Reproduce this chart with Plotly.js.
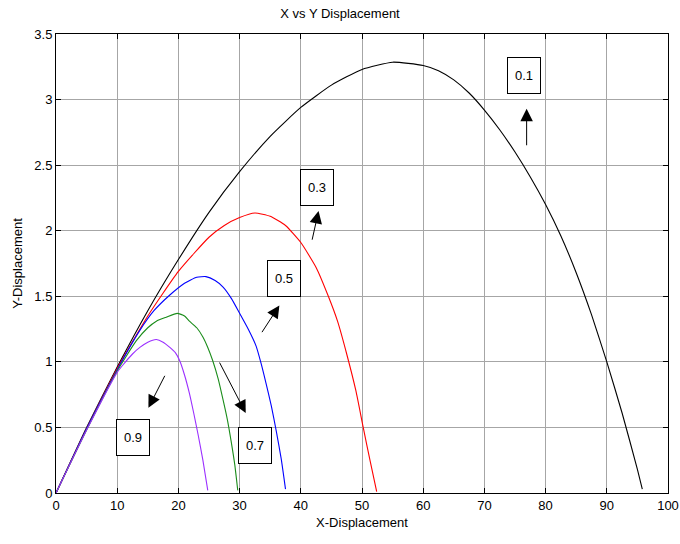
<!DOCTYPE html>
<html>
<head>
<meta charset="utf-8">
<script src="https://cdn.plot.ly/plotly-3.0.1.min.js"></script>
<style>html,body{margin:0;padding:0;background:#fff;}#chart{width:680px;height:544px;}</style>
</head>
<body>
<div id="chart"></div>
<script>
// Trajectories (X, Y) for each coefficient
const labels = ["0.1", "0.3", "0.5", "0.7", "0.9"];
const colors = ["#000000", "#ff0000", "#0000ff", "#1a8c1a", "#9b30ff"];

const x01 = [0, 5, 10, 15, 20, 25, 30, 35, 40, 45, 50, 55, 60, 62.5, 65, 67.5, 70, 72.5, 75, 77.5, 80, 82.5, 85, 87.5, 90, 92.5, 95, 95.8];
const y01 = [0, 0.5, 0.96, 1.39, 1.78, 2.14, 2.45, 2.72, 2.94, 3.11, 3.23, 3.285, 3.26, 3.22, 3.15, 3.05, 2.92, 2.77, 2.60, 2.41, 2.20, 1.96, 1.68, 1.36, 1.0, 0.61, 0.18, 0.03];

const x03 = [0, 5, 10, 15, 20, 25, 27.5, 30, 32.5, 35, 37.5, 40, 42.5, 44.5, 46, 47.5, 49, 50.2, 51.3, 52.4];
const y03 = [0, 0.49, 0.95, 1.35, 1.69, 1.95, 2.04, 2.10, 2.135, 2.11, 2.04, 1.91, 1.72, 1.50, 1.31, 1.06, 0.78, 0.50, 0.25, 0.01];

const x05 = [0, 5, 10, 13.7, 16, 18.6, 21, 23, 24.5, 26, 27.3, 28.7, 30, 31.4, 32.7, 33.5, 34.3, 35.2, 36, 36.8, 37.5];
const y05 = [0, 0.49, 0.94, 1.24, 1.39, 1.51, 1.60, 1.645, 1.65, 1.62, 1.57, 1.48, 1.37, 1.25, 1.12, 0.99, 0.84, 0.66, 0.47, 0.26, 0.03];

const x07 = [0, 5, 10, 13.1, 15, 16.4, 18, 19.8, 21, 21.8, 23, 24, 24.8, 25.6, 26.5, 27.3, 28, 28.6, 29.2, 29.7];
const y07 = [0, 0.48, 0.93, 1.16, 1.26, 1.31, 1.34, 1.37, 1.35, 1.31, 1.26, 1.19, 1.11, 1.01, 0.87, 0.71, 0.56, 0.40, 0.22, 0.02];

const x09 = [0, 5, 10, 11, 12.5, 13.7, 15, 16.4, 17.5, 18.6, 19.5, 20.2, 21, 21.8, 22.5, 23.2, 24, 24.8];
const y09 = [0, 0.48, 0.92, 0.98, 1.06, 1.11, 1.15, 1.17, 1.15, 1.11, 1.07, 1.01, 0.90, 0.76, 0.61, 0.45, 0.25, 0.02];

// Label boxes: centre positions in data units
const boxX = [76.5, 42.6, 37.2, 32.5, 12.6];
const boxY = [3.18, 2.33, 1.635, 0.364, 0.427];
// Arrows: head (x,y) and tail (ax,ay)
const arrHeadX = [76.9, 42.9, 36.5, 31.0, 15.1];
const arrHeadY = [2.93, 2.15, 1.43, 0.61, 0.65];
const arrTailX = [76.9, 41.8, 33.5, 26.6, 17.9];
const arrTailY = [2.64, 1.92, 1.215, 1.006, 0.905];

const xTicks = [0, 10, 20, 30, 40, 50, 60, 70, 80, 90, 100];
const yTicks = [0, 0.5, 1, 1.5, 2, 2.5, 3, 3.5];
const yTickText = ["0", "0.5", "1", "1.5", "2", "2.5", "3", "3.5"];

const xs = [x01, x03, x05, x07, x09];
const ys = [y01, y03, y05, y07, y09];

const FONT = "'Liberation Sans Narrow', 'Arial Narrow', 'Liberation Sans', Arial, sans-serif";

const traces = xs.map((xv, i) => ({
  x: xv, y: ys[i], type: 'scatter', mode: 'lines', name: labels[i],
  line: {color: colors[i], width: 1.1, shape: 'spline', smoothing: 0.5},
  hoverinfo: 'skip'
}));

const annotations = [];
labels.forEach((lab, i) => {
  annotations.push({
    x: boxX[i], y: boxY[i], xref: 'x', yref: 'y', text: lab, showarrow: false,
    font: {family: FONT, size: 13, color: '#000'},
    bordercolor: '#000', borderwidth: 1, bgcolor: '#fff',
    width: 30, height: 33, align: 'center', valign: 'middle'
  });
  annotations.push({
    x: arrHeadX[i], y: arrHeadY[i], ax: arrTailX[i], ay: arrTailY[i],
    xref: 'x', yref: 'y', axref: 'x', ayref: 'y', text: '', showarrow: true,
    arrowhead: 2, arrowsize: 2.5, arrowwidth: 1, arrowcolor: '#000'
  });
});

const axisCommon = {
  showline: true, linecolor: '#000', linewidth: 1, mirror: 'ticks',
  ticks: 'inside', ticklen: 5, tickcolor: '#000',
  showgrid: true, gridcolor: '#a6a6a6', gridwidth: 1,
  zeroline: false, tickfont: {family: FONT, size: 13, color: '#000'}
};

const layout = {
  width: 680, height: 544,
  margin: {l: 55.5, r: 11.5, t: 33.5, b: 51.3},
  paper_bgcolor: '#fff', plot_bgcolor: '#fff',
  showlegend: false,
  title: {text: 'X vs Y Displacement', x: 0.5, xanchor: 'center', y: 0.983, yanchor: 'top',
          font: {family: FONT, size: 13, color: '#000'}},
  xaxis: Object.assign({}, axisCommon, {
    range: [0, 100], tickvals: xTicks, ticktext: xTicks.map(String),
    title: {text: 'X-Displacement', standoff: 6, font: {family: FONT, size: 13, color: '#000'}}
  }),
  yaxis: Object.assign({}, axisCommon, {
    range: [0, 3.5], tickvals: yTicks, ticktext: yTickText,
    title: {text: 'Y-Displacement', standoff: 8, font: {family: FONT, size: 13, color: '#000'}}
  }),
  annotations: annotations
};

Plotly.newPlot('chart', traces, layout, {staticPlot: true, displayModeBar: false});
</script>
</body>
</html>
